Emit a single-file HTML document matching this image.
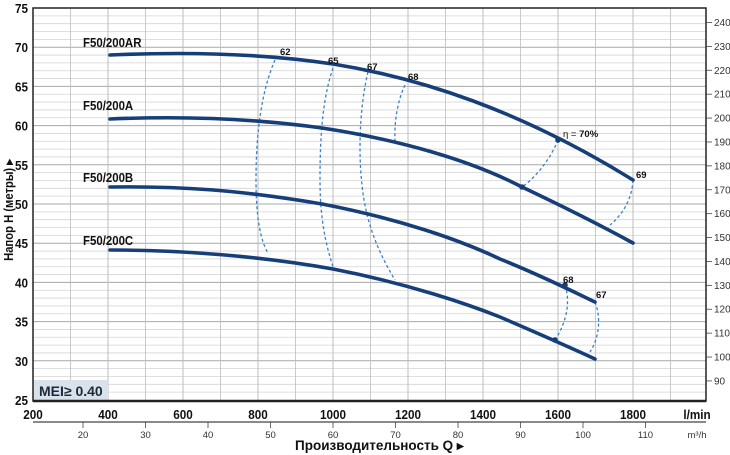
<!DOCTYPE html>
<html><head><meta charset="utf-8"><style>
html,body{margin:0;padding:0;background:#fff;width:730px;height:455px;overflow:hidden}
svg{display:block}
text{font-family:"Liberation Sans",sans-serif}
</style></head><body>
<svg id="s" width="730" height="455" viewBox="0 0 730 455" xmlns="http://www.w3.org/2000/svg">
<g id="grid"></g>
<rect x="33" y="380" width="75" height="21" fill="#d9e1ea"/>
<text x="39" y="396" font-size="14" font-weight="bold" fill="#1a2a3a">MEI≥ 0.40</text>
<rect x="33" y="8" width="673" height="393" fill="none" stroke="#222" stroke-width="1.5"/>
<line x1="33" y1="401" x2="706" y2="401" stroke="#222" stroke-width="2.5"/>
<g id="labels"></g>
<g fill="none" stroke="#3a80c8" stroke-width="1.3" stroke-dasharray="3,2.5">
<path d="M275,60 C262,90 256,130 256,180 C256,215 260,240 268,253"/>
<path d="M333,68 C322,100 320,140 320,180 C320,220 326,245 333,267"/>
<path d="M368,72 C360,105 358,150 362,185 C366,225 380,255 395,280"/>
<path d="M405,85 C398,100 394,120 395,142"/>
<path d="M558,140 C550,160 535,178 522,187"/>
<path d="M633,180 C632,200 622,215 610,225"/>
<path d="M565,285 C570,300 568,320 555,340"/>
<path d="M595,302 C602,320 598,340 590,352"/>
</g>
<g fill="none" stroke="#163f7a" stroke-width="3.6" stroke-linecap="round">
<path d="M110,55 C180,52 260,53 333,64 C420,78 520,110 633,180"/>
<path d="M110,119 C180,116 250,118 322,128 C400,140 470,160 522,187 C560,205 600,225 633,243"/>
<path d="M110,187 C180,186 240,190 322,204 C400,219 460,240 500,259 C540,275 570,290 595,302"/>
<path d="M110,250 C180,250 260,256 333,269 C410,284 470,305 500,317 C530,330 565,345 595,359"/>
</g>
<g fill="#163f7a"><circle cx="558" cy="140" r="2.8"/><circle cx="522" cy="187" r="2.8"/><circle cx="565" cy="285" r="2.8"/><circle cx="555" cy="340" r="2.8"/></g>
<g font-size="9.5" font-weight="bold" fill="#111">
<text x="280" y="55">62</text><text x="328" y="64">65</text><text x="367" y="70">67</text><text x="408" y="80">68</text>
<text x="563" y="137"><tspan font-weight="normal">η = </tspan>70%</text>
<text x="636" y="178">69</text><text x="563" y="283">68</text><text x="596" y="298">67</text>
</g>
<g font-size="13" font-weight="bold" fill="#111">
<text x="83" y="47" transform="translate(83,0) scale(0.88,1) translate(-83,0)">F50/200AR</text>
<text x="83" y="110" transform="translate(83,0) scale(0.88,1) translate(-83,0)">F50/200A</text>
<text x="83" y="182" transform="translate(83,0) scale(0.88,1) translate(-83,0)">F50/200B</text>
<text x="83" y="245" transform="translate(83,0) scale(0.88,1) translate(-83,0)">F50/200C</text>
</g>
<text transform="translate(13,210) rotate(-90) scale(0.9,1)" text-anchor="middle" font-size="12.5" font-weight="bold" fill="#111">Напор H (метры) ▸</text>
<text x="295" y="450" font-size="13.5" font-weight="bold" fill="#111">Производительность Q ▸</text>
</svg>
<script>
var NS="http://www.w3.org/2000/svg";
function el(p,t,a,txt){var e=document.createElementNS(NS,t);for(var k in a)e.setAttribute(k,a[k]);if(txt!==undefined)e.textContent=txt;p.appendChild(e);return e;}
var g=document.getElementById('grid'),L=document.getElementById('labels');
function Y(m){return 8+(75-m)*7.84;}
function X(q){return 33+(q-200)*0.375;}
for(var m=26;m<75;m++){var y=Y(m);el(g,'line',{x1:33,x2:706,y1:y,y2:y,stroke:m%5==0?'#a8a8a8':'#d4d4d4','stroke-width':m%5==0?1:0.8});}
for(var q=300;q<=1900;q+=100){var x=X(q);el(g,'line',{x1:x,x2:x,y1:8,y2:401,stroke:'#bdbdbd','stroke-width':q%200==0?1:0.8});}
for(var m=25;m<=75;m+=5){el(L,'text',{x:28,y:Y(m)+5,'text-anchor':'end','font-size':13,'font-weight':'bold',fill:'#111',transform:'translate(28,0) scale(0.9,1) translate(-28,0)'},m);}
for(var q=200;q<=1800;q+=200){var x=X(q);el(L,'text',{x:x,y:419,'text-anchor':'middle','font-size':13,'font-weight':'bold',fill:'#111',transform:'translate('+x+',0) scale(0.9,1) translate('+(-x)+',0)'},q);}
el(L,'text',{x:697,y:419,'text-anchor':'middle','font-size':13,'font-weight':'bold',fill:'#111',transform:'translate(697,0) scale(0.9,1) translate(-697,0)'},'l/min');
for(var f=90;f<=240;f+=10){var y=Y(f/3.2808);el(L,'line',{x1:706,x2:712,y1:y,y2:y,stroke:'#444','stroke-width':0.8});el(L,'text',{x:714,y:y+3.5,'font-size':10,fill:'#333'},f);}
el(L,'line',{x1:33,x2:706,y1:422,y2:422,stroke:'#444','stroke-width':1.2});
for(var v=20;v<=110;v+=10){var x=X(v*1000/60);el(L,'line',{x1:x,x2:x,y1:422,y2:428,stroke:'#444','stroke-width':0.8});el(L,'text',{x:x,y:438,'text-anchor':'middle','font-size':9.5,fill:'#333'},v);}
el(L,'text',{x:697,y:438,'text-anchor':'middle','font-size':9.5,fill:'#333'},'m³/h');
</script>
</body></html>
